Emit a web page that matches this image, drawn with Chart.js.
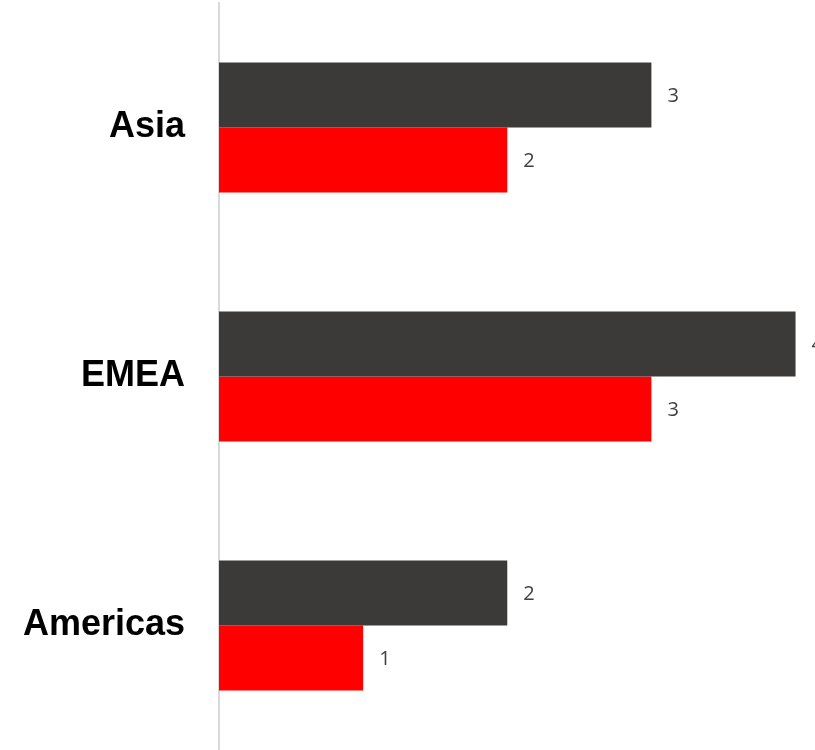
<!DOCTYPE html>
<html>
<head>
<meta charset="utf-8">
<script src="https://cdn.jsdelivr.net/npm/chart.js@4"></script>
<style>
  html, body { margin: 0; padding: 0; background: #fff; overflow: hidden; }
  #wrap { width: 815px; height: 750px; }
</style>
</head>
<body>
<div id="wrap"><canvas id="myChart"></canvas></div>
<script>
let regions = ['Asia', 'EMEA', 'Americas'];
let darkValues = [3, 4, 2];
let redValues = [2, 3, 1];

// value labels to the right of each bar
const valueLabels = {
  id: 'valueLabels',
  afterDatasetsDraw(chart) {
    const ctx = chart.ctx;
    ctx.save();
    ctx.font = '20px "Open Sans"';
    ctx.fillStyle = '#404040';
    ctx.textAlign = 'left';
    ctx.textBaseline = 'middle';
    chart.data.datasets.forEach((ds, i) => {
      chart.getDatasetMeta(i).data.forEach((bar, j) => {
        ctx.fillText(ds.data[j], bar.x + 16, bar.y + 1);
      });
    });
    ctx.restore();
  }
};

const ctx = document.getElementById('myChart');
let myChart = new Chart(ctx, {
  type: 'bar',
  data: {
    labels: regions,
    datasets: [{
        label: 'Series 1',
        data: darkValues,
        backgroundColor: '#3b3a38',
        borderWidth: 0
      },
      {
        label: 'Series 2',
        data: redValues,
        backgroundColor: '#ff0000',
        borderWidth: 0
      }
    ]
  },
  options: {
    indexAxis: 'y',
    responsive: true,
    maintainAspectRatio: false,
    animation: false,
    layout: { padding: { top: 3, right: 0, bottom: 0, left: 0 } },
    datasets: {
      bar: { categoryPercentage: 0.522, barPercentage: 1 }
    },
    plugins: {
      legend: { display: false },
      tooltip: { enabled: false }
    },
    scales: {
      x: {
        display: false,
        min: 0,
        max: 4.135
      },
      y: {
        afterFit: (scale) => {
          scale.width = 219;
          scale.paddingTop = 0;
          scale.paddingBottom = 0;
        },
        grid: { display: false, drawTicks: false },
        border: { display: true, color: '#d9d9d9', width: 2 },
        ticks: {
          padding: 34,
          color: '#000',
          font: { family: '"Liberation Sans", Arial', size: 36, weight: 'bold' }
        }
      }
    }
  },
  plugins: [valueLabels]
});
</script>
</body>
</html>
